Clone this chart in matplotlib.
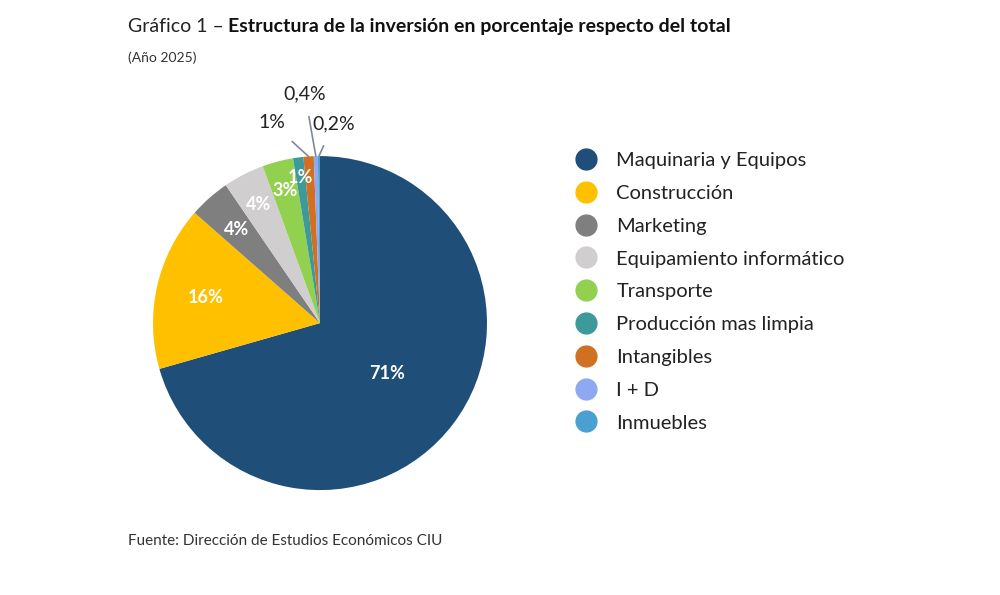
import matplotlib.pyplot as plt
import numpy as np
from matplotlib.lines import Line2D

categorias = ['Maquinaria y Equipos', 'Construcción', 'Marketing', 'Equipamiento informático',
              'Transporte', 'Producción mas limpia', 'Intangibles', 'I + D', 'Inmuebles']
valores = [71, 16, 4, 4, 3, 1, 1, 0.4, 0.2]
etiquetas = ['71%', '16%', '4%', '4%', '3%', '1%', '1%', '0,4%', '0,2%']
colores = ['#1f4e79', '#ffc000', '#7f7f7f', '#d0cece', '#92d050', '#3c9a9a', '#d07020', '#8ea9f0', '#4aa0d0']

plt.rcParams['font.family'] = ['Lato', 'DejaVu Sans']
fig = plt.figure(figsize=(10, 5.95), dpi=100)
ax = fig.add_axes([0.153, 0.176, 0.334, 0.562])
wedges, _ = ax.pie(valores, colors=colores, startangle=90, counterclock=False,
                   wedgeprops=dict(linewidth=0))
ax.set_aspect('equal')
ax.set_xlim(-1, 1)
ax.set_ylim(-1, 1)

total = sum(valores)
acc = 0
for i, (v, lab) in enumerate(zip(valores, etiquetas)):
    mid = 90 - (acc + v / 2) / total * 360
    acc += v
    th = np.deg2rad(mid)
    if i <= 5:
        r = {0: 0.5, 1: 0.7, 2: 0.75, 3: 0.8, 4: 0.82, 5: 0.88}[i]
        ax.text(r * np.cos(th), r * np.sin(th), lab, ha='center', va='center',
                color='white', fontsize=13, fontweight='bold')
    else:
        pos = {6: (-0.29, 1.2), 7: (-0.09, 1.37), 8: (0.08, 1.19)}[i]
        ax.annotate(lab, xy=(np.cos(th), np.sin(th)), xytext=pos, ha='center', va='center',
                    fontsize=14, color='#222222', annotation_clip=False,
                    arrowprops=dict(arrowstyle='-', color='#7f8a99', lw=1.2,
                                    shrinkA=8, shrinkB=0))

handles = [Line2D([], [], marker='o', ls='', markersize=15, color=c) for c in colores]
fig.legend(handles, categorias, loc='upper left', bbox_to_anchor=(0.548, 0.775),
           frameon=False, fontsize=14.5, labelspacing=0.78, handletextpad=0.5,
           labelcolor='#222222')

fig.text(0.128, 0.955, 'Gráfico 1 – ', fontsize=14, color='#222222', va='center')
fig.text(0.228, 0.955, 'Estructura de la inversión en porcentaje respecto del total',
         fontsize=14, fontweight='bold', color='#111111', va='center')
fig.text(0.128, 0.903, '(Año 2025)', fontsize=10, color='#333333', va='center')
fig.text(0.128, 0.09, 'Fuente: Dirección de Estudios Económicos CIU', fontsize=11,
         color='#333333', va='center')
fig.savefig('out.png')
